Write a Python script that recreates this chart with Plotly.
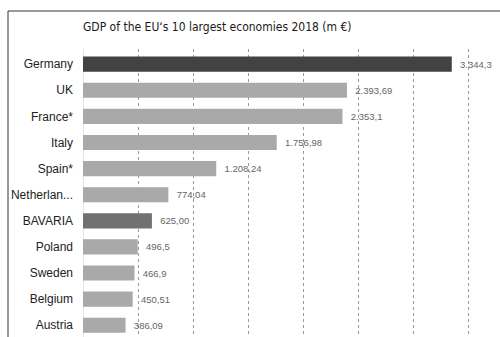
import plotly.graph_objects as go

countries = ["Germany", "UK", "France*", "Italy", "Spain*", "Netherlan...",
             "BAVARIA", "Poland", "Sweden", "Belgium", "Austria"]
gdp = [3344.3, 2393.69, 2353.1, 1756.98, 1208.24, 774.04, 625.00, 496.5, 466.9, 450.51, 386.09]
value_labels = ["3.344,3", "2.393,69", "2.353,1", "1.756,98", "1.208,24", "774,04",
                "625,00", "496,5", "466,9", "450,51", "386,09"]
bar_colors = ["#424242", "#a9a9a9", "#a9a9a9", "#a9a9a9", "#a9a9a9", "#a9a9a9",
              "#717171", "#a9a9a9", "#a9a9a9", "#a9a9a9", "#a9a9a9"]

fig = go.Figure(go.Bar(
    x=gdp, y=countries, orientation="h",
    marker=dict(color=bar_colors, line=dict(width=0)),
    text=value_labels, texttemplate="  %{text}", textposition="outside", cliponaxis=False,
    textfont=dict(family="Liberation Sans, Arial", size=9.5, color="#666666"),
))

W, H = 500, 337
ml, mr, mt, mb = 83, 9, 49, 0
pw, ph = W - ml - mr, H - mt - mb

def px_x(p):
    return (p - ml) / pw

def px_y(p):
    return (H - mb - p) / ph

fig.update_layout(
    width=W, height=H,
    margin=dict(l=ml, r=mr, t=mt, b=mb, pad=0),
    paper_bgcolor="white", plot_bgcolor="white",
    bargap=0.42,
    showlegend=False,
    title=dict(text="GDP of the EU‘s 10 largest economies 2018 (m €)",
               x=83 / W, xanchor="left", y=1 - 27 / H, yanchor="middle",
               font=dict(family="DejaVu Sans Condensed", size=12, color="#1a1a1a")),
    xaxis=dict(range=[0, 3700], dtick=500, tick0=0, showticklabels=False,
               showgrid=True, gridcolor="#999999", griddash="dot", gridwidth=1,
               zeroline=False, showline=False, ticks=""),
    yaxis=dict(range=[10.45, -0.58], showgrid=False, showline=False, ticks="",
               ticklabelstandoff=9,
               tickfont=dict(family="Liberation Sans, Arial", size=12, color="#222222")),
    shapes=[
        dict(type="line", xref="paper", yref="paper",
             x0=px_x(8), x1=px_x(8), y0=px_y(H + 5), y1=px_y(11),
             line=dict(color="#333333", width=1)),
        dict(type="line", xref="paper", yref="paper",
             x0=px_x(8), x1=px_x(W + 5), y0=px_y(11), y1=px_y(11),
             line=dict(color="#333333", width=1)),
        dict(type="line", xref="x", yref="paper", x0=0, x1=0, y0=0, y1=1,
             line=dict(color="#cccccc", width=1), layer="below"),
    ],
)

fig.write_html("out.html")
